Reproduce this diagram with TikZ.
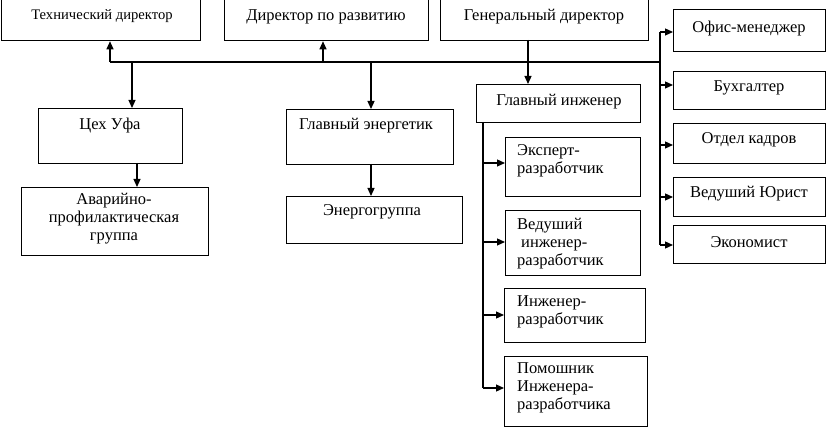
\documentclass[tikz,border=0pt]{standalone}
\usepackage{fontspec}
\setmainfont{Liberation Serif}
\usetikzlibrary{arrows.meta,calc}
\tikzset{
  box/.style={draw,line width=1.3pt,rectangle,inner sep=0pt},
  txt/.style={inner sep=0pt,font=\fontsize{16.5}{18}\selectfont,align=center},
  ltxt/.style={inner sep=0pt,font=\fontsize{16.5}{18}\selectfont,align=left,anchor=west},
  arr/.style={line width=1.2pt,-{Triangle[length=8pt,width=7pt]}},
  ln/.style={line width=1.2pt}
}
\newcommand{\bx}[5]{\node[box,anchor=north west,minimum width=#4-#2,minimum height=#5-#3] (#1) at (#2,#3) {};}
\begin{document}
\begin{tikzpicture}[x=1pt,y=-1pt]
\useasboundingbox (0,0) rectangle (826,427);
\begin{scope}
\clip (0,0) rectangle (826,427);
% top row
\bx{tech}{0.7}{-8}{200}{40}
\bx{dir}{224}{-8}{428}{40}
\bx{gen}{440}{-8}{648}{40}
% right column
\bx{office}{673}{9}{825}{51}
\bx{buh}{673}{71}{825}{109}
\bx{kadr}{673}{123}{825}{163}
\bx{jur}{673}{177}{825}{216}
\bx{econ}{673}{225}{825}{263}
% engineer branch
\bx{ing}{476}{84}{640}{122}
\bx{exp}{505}{137}{640}{196}
\bx{ved}{505}{210}{640}{275}
\bx{inz}{504}{288}{645}{342}
\bx{pom}{504}{356}{647}{426}
% left branches
\bx{cex}{38}{108}{182}{163}
\bx{avar}{21}{187}{208}{255}
\bx{energ}{286}{109}{453}{164}
\bx{egr}{286}{196}{462}{243}
\end{scope}
% texts
\node[txt,font=\fontsize{14.6}{16}\selectfont] (tech-t) at (102,16) {Технический директор};
\node[txt] (dir-t) at (326,17) {Директор по развитию};
\node[txt] (gen-t) at (544,17) {Генеральный директор};
\node[txt] (office-t) at (749,29) {Офис-менеджер};
\node[txt] (buh-t) at (749,88) {Бухгалтер};
\node[txt] (kadr-t) at (749,140) {Отдел кадров};
\node[txt] (jur-t) at (749,194) {Ведуший Юрист};
\node[txt] (econ-t) at (749,242) {Экономист};
\node[txt] (ing-t) at (559,102) {Главный инженер};
\node[ltxt] (exp-t) at (517,161) {Эксперт-\\разработчик};
\node[ltxt] (ved-t) at (517,244) {Ведуший\\\hspace{4pt}инженер-\\разработчик};
\node[ltxt] (inz-t) at (517,312) {Инженер-\\разработчик};
\node[ltxt] (pom-t) at (517,388) {Помошник\\Инженера-\\разработчика};
\node[txt] (cex-t) at (110,126) {Цех Уфа};
\node[txt] (avar-t) at (114,219) {Аварийно-\\профилактическая\\группа};
\node[txt] (energ-t) at (366,126) {Главный энергетик};
\node[txt] (egr-t) at (372,212) {Энергогруппа};
% bus
\coordinate (busL) at (110,62);
\coordinate (busR) at (660,62);
\coordinate (bDir) at (323,62);
\coordinate (bCex) at (132,62);
\coordinate (bEn) at (371,62);
\coordinate (cexS) at (137,163);
\coordinate (enS) at (371,164);
\coordinate (genS) at (528,40);
\coordinate (rTop) at (660,32);
\coordinate (rBot) at (660,245);
\coordinate (lTop) at (483,122);
\coordinate (lBot) at (483,388);
\draw[ln] (busL) -- (busR);
\draw[arr] (busL) -- (busL |- tech.south);
\draw[arr] (bDir) -- (bDir |- dir.south);
\draw[arr] (bCex) -- (bCex |- cex.north);
\draw[arr] (bEn) -- (bEn |- energ.north);
\draw[arr] (cexS) -- (cexS |- avar.north);
\draw[arr] (enS) -- (enS |- egr.north);
\draw[arr] (genS) -- (genS |- ing.north);
% right column
\draw[ln] (rTop) -- (rBot);
\draw[arr] (rTop) -- (rTop -| office.west);
\draw[arr] (660,85) -- (buh.west |- 0,85);
\draw[arr] (660,145) -- (kadr.west |- 0,145);
\draw[arr] (660,197) -- (jur.west |- 0,197);
\draw[arr] (rBot) -- (rBot -| econ.west);
% engineer column
\draw[ln] (lTop) -- (lBot);
\draw[arr] (483,163) -- (exp.west |- 0,163);
\draw[arr] (483,242) -- (ved.west |- 0,242);
\draw[arr] (483,315) -- (inz.west |- 0,315);
\draw[arr] (lBot) -- (lBot -| pom.west);
\end{tikzpicture}
\end{document}
